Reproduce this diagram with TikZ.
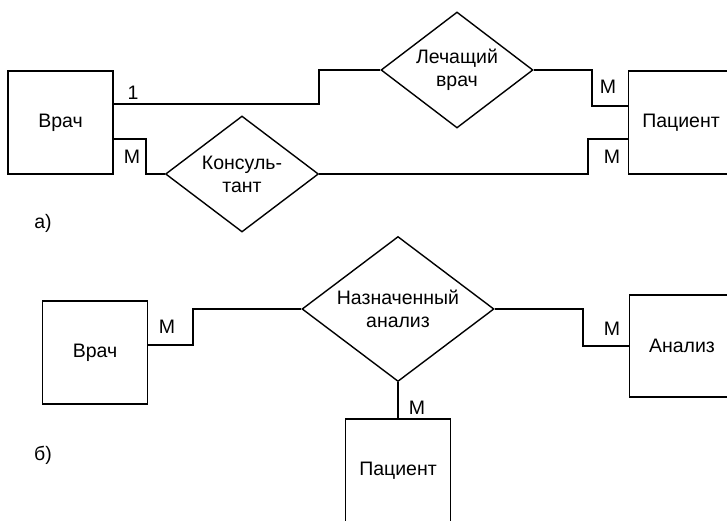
\documentclass[tikz,border=0pt]{standalone}
\usepackage{fontspec}
\setmainfont{Liberation Sans}
\usepackage{tikz}
\usetikzlibrary{shapes.geometric}

\begin{document}
\begin{tikzpicture}[x=1pt,y=-1pt,line width=1.4pt,
  every node/.style={font=\fontsize{19.5}{23}\selectfont},
  entity/.style={draw,rectangle,inner sep=0pt,minimum width=105pt,minimum height=103pt},
  relation/.style={draw,diamond,inner sep=0pt,align=center},
  card/.style={inner sep=0pt}]
 \useasboundingbox (0,0) rectangle (727,521);
 \clip (0,0) rectangle (727,521);
 % a)
 \node[entity] (vrachA) at (60.5,122.5) {Врач};
 \node[entity] (pacA) at (681,122.5) {Пациент};
 \node[relation,aspect=1.31,minimum width=152pt,minimum height=116pt] (lech) at (457,70) {Лечащий\\врач};
 \node[relation,aspect=1.31,minimum width=153pt,minimum height=116pt] (kons) at (242,174) {Консуль-\\тант};
 \draw (vrachA.east |- 0,104) -- (319,104) |- (lech.west);
 \draw (lech.east) -- (592,70) |- (pacA.west |- 0,106);
 \draw (pacA.west |- 0,139) -- (588,139) |- (kons.east);
 \draw (vrachA.east |- 0,139) -- (146,139) |- (kons.west);
 \node[card] (c1) at (133,93) {1};
 \node[card] (c2) at (132,157) {М};
 \node[card] (c3) at (608,87) {М};
 \node[card] (c4) at (612,157) {М};
 \node (capA) at (43,223) {а)};
 % b)
 \node[entity] (vrachB) at (95,352.5) {Врач};
 \node[entity,minimum height=102pt] (anal) at (682,346) {Анализ};
 \node[entity,minimum height=104pt] (pacB) at (398,471) {Пациент};
 \node[relation,aspect=1.33,minimum width=192pt,minimum height=145pt] (nazn) at (398,309) {Назначенный\\анализ};
 \draw (vrachB.east |- 0,345) -- (193,345) |- (nazn.west);
 \draw (nazn.east) -- (583,309) |- (anal.west);
 \draw (nazn.south) -- (pacB.north);
 \node[card] (c5) at (167,327) {М};
 \node[card] (c6) at (612,329) {М};
 \node[card] (c7) at (417,408) {М};
 \node (capB) at (43,455) {б)};
\end{tikzpicture}
\end{document}
